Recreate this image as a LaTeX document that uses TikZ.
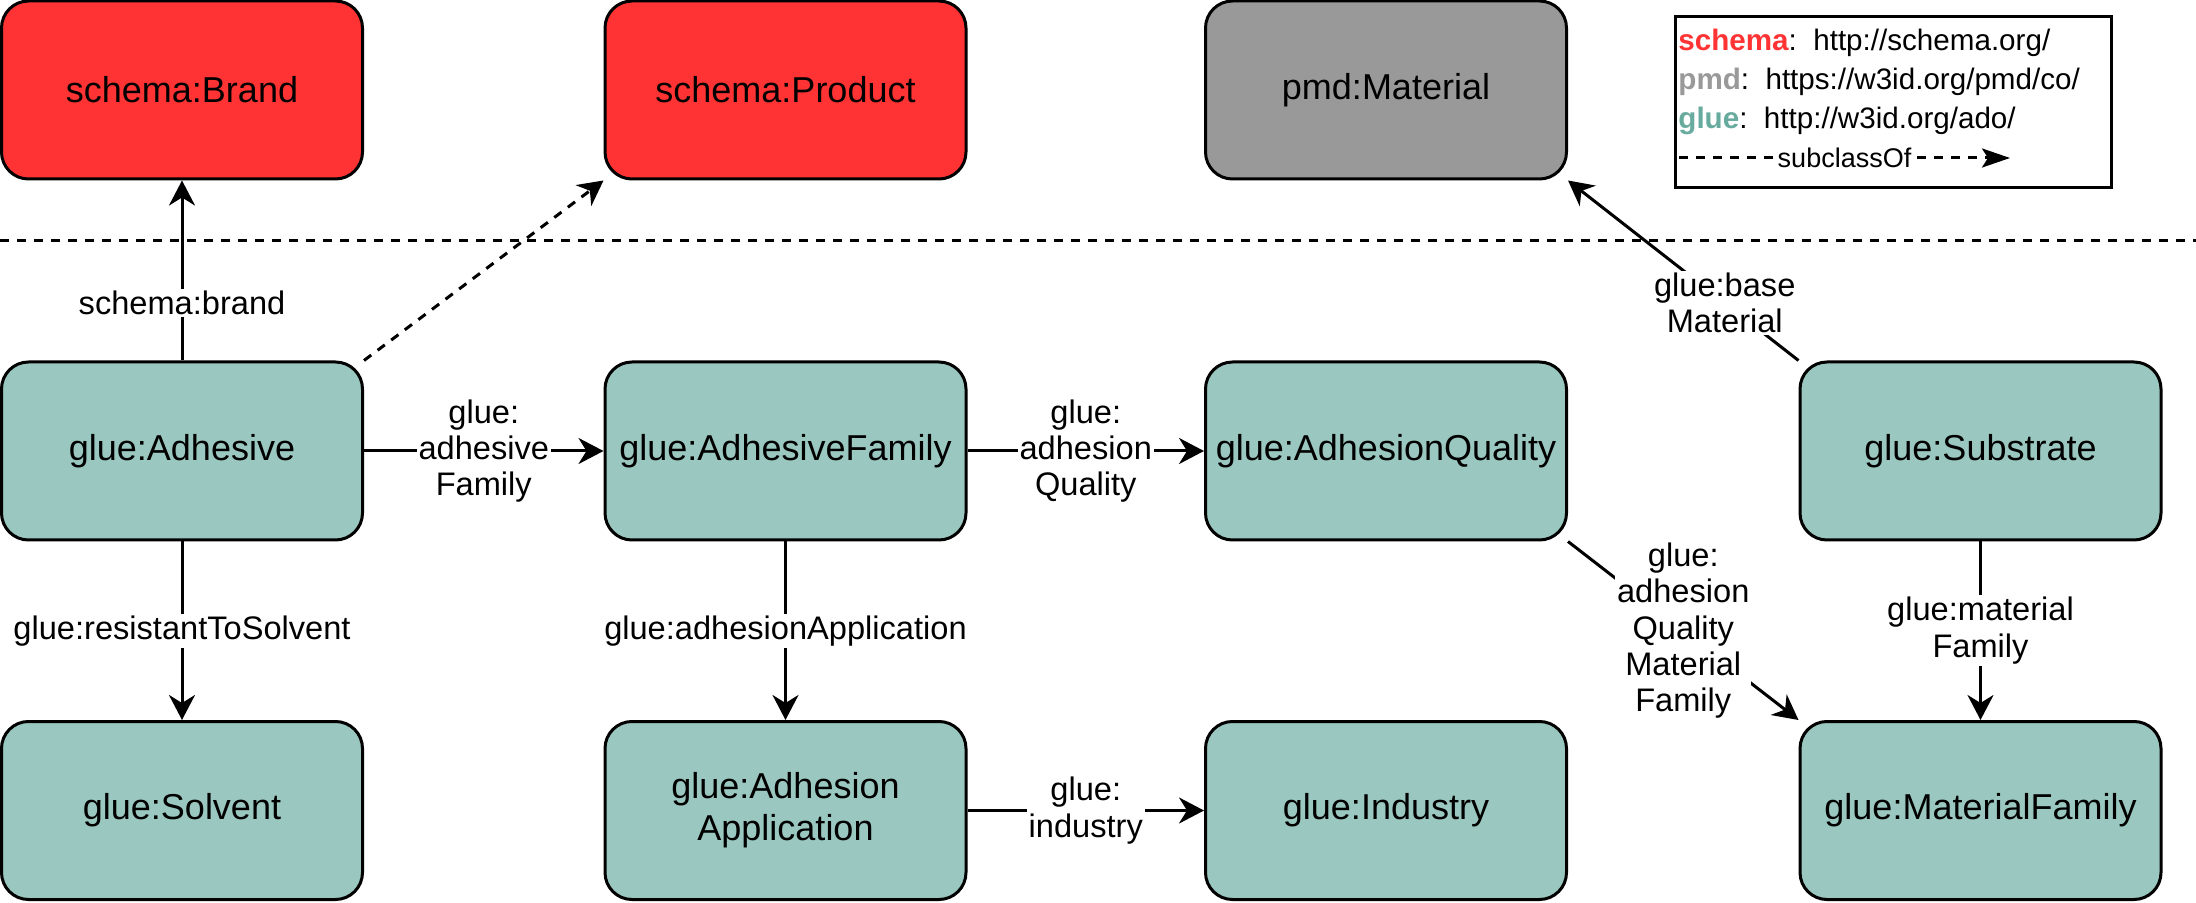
\documentclass[tikz,border=0pt]{standalone}
\usepackage{fontspec}
\setmainfont{Liberation Sans}
\usetikzlibrary{arrows.meta}
\definecolor{schemared}{HTML}{FF3333}
\definecolor{pmdgray}{HTML}{999999}
\definecolor{gluefill}{HTML}{9AC7BF}
\definecolor{gluetext}{HTML}{67AB9F}
\begin{document}
\begin{tikzpicture}[x=0.5pt,y=-0.5pt,
  cls/.style={draw=black, line width=1.5pt, rounded corners=13.5pt, minimum width=180.5pt, minimum height=89pt, inner sep=0pt, font=\fontsize{18}{21}\selectfont, align=center},
  schemacls/.style={cls, fill=schemared},
  pmdcls/.style={cls, fill=pmdgray},
  gluecls/.style={cls, fill=gluefill},
  rel/.style={line width=1.5pt, -{Stealth[length=12.5pt,width=13pt,inset=4pt]}},
  sub/.style={rel, dash pattern=on 4.5pt off 4pt},
  lbl/.style={fill=white, inner sep=1pt, font=\fontsize{16.3}{18.2}\selectfont, align=center},
  legtext/.style={anchor=base west, inner sep=0pt, font=\fontsize{14.8}{17}\selectfont}
]
\useasboundingbox (0,0) rectangle (2196,903);
% upper layer
\node[schemacls] (brand) at (182,90) {schema:Brand};
\node[schemacls] (product) at (785.5,90) {schema:Product};
\node[pmdcls] (pmd) at (1386,90) {pmd:Material};
% separator
\coordinate (sepL) at (0,241);
\coordinate (sepR) at (2196,241);
\draw[line width=1.5pt, dash pattern=on 4.5pt off 4pt] (sepL) -- (sepR);
% glue layer
\node[gluecls] (adhesive) at (182,451) {glue:Adhesive};
\node[gluecls] (adfam) at (785.5,451) {glue:AdhesiveFamily};
\node[gluecls] (adqual) at (1386,451) {glue:AdhesionQuality};
\node[gluecls] (substrate) at (1980.5,451) {glue:Substrate};
\node[gluecls] (solvent) at (182,810.5) {glue:Solvent};
\node[gluecls] (adapp) at (785.5,810.5) {glue:Adhesion\\Application};
\node[gluecls] (industry) at (1386,810.5) {glue:Industry};
\node[gluecls] (matfam) at (1980.5,810.5) {glue:MaterialFamily};
% edges
\draw[rel] (adhesive) -- node[lbl, pos=0.32] {schema:brand} (brand);
\draw[sub] (adhesive.north east) -- (product.south west);
\draw[rel] (adhesive) -- node[lbl] {glue:\\adhesive\\Family} (adfam);
\draw[rel] (adfam) -- node[lbl] {glue:\\adhesion\\Quality} (adqual);
\draw[rel] (adhesive) -- node[lbl] {glue:resistantToSolvent} (solvent);
\draw[rel] (adfam) -- node[lbl] {glue:adhesionApplication} (adapp);
\draw[rel] (adapp) -- node[lbl] {glue:\\industry} (industry);
\draw[rel] (adqual.south east) -- node[lbl] {glue:\\adhesion\\Quality\\Material\\Family} (matfam.north west);
\draw[rel] (substrate) -- node[lbl] {glue:material\\Family} (matfam);
\draw[rel] (substrate.north west) -- node[lbl, pos=0.32] {glue:base\\Material} (pmd.south east);
% legend
\node[draw, line width=1.5pt, minimum width=218pt, minimum height=85.5pt, inner sep=0pt, anchor=north west] (legend) at (1674,15) {};
\node[legtext] (l1) at (1678,51) {\textbf{\color{schemared}schema}:\ \ http://schema.org/};
\node[legtext] (l2) at (1678,90) {\textbf{\color{pmdgray}pmd}:\ \ https://w3id.org/pmd/co/};
\node[legtext] (l3) at (1678,129) {\textbf{\color{gluetext}glue}:\ \ http://w3id.org/ado/};
\coordinate (la) at (1679,158);
\coordinate (lb) at (2010,158);
\draw[sub, -{Stealth[length=14pt,width=9.5pt,inset=3pt]}] (la) -- node[fill=white, inner sep=0.5pt, font=\fontsize{13.5}{15}\selectfont] (sublbl) {subclassOf} (lb);
\end{tikzpicture}
\end{document}
